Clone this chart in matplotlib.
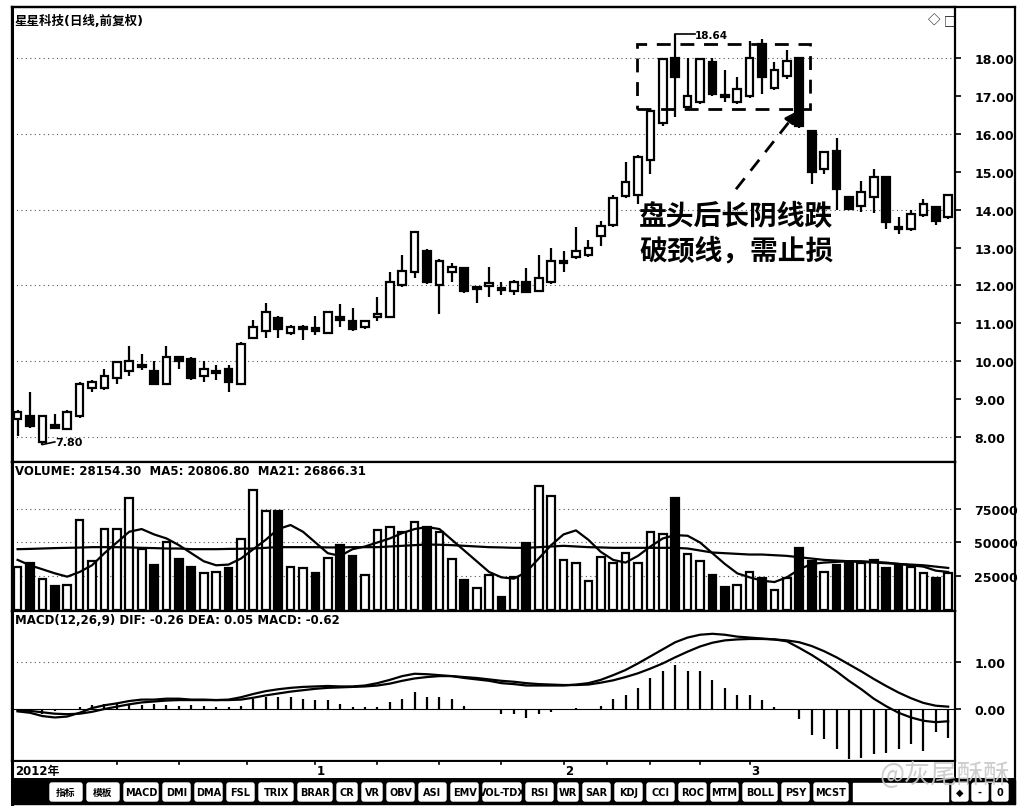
import numpy as np
import matplotlib
matplotlib.use("Agg")
import matplotlib.pyplot as plt
from matplotlib.patches import Rectangle, FancyBboxPatch

plt.rcParams['font.family'] = ['DejaVu Sans', 'Noto Sans CJK SC']

# ---- data ----
opens = [8.47, 8.55, 7.87, 8.30, 8.21, 8.55, 9.30, 9.30, 9.55, 9.75,
         9.85, 9.74, 9.40, 10.10, 10.05, 9.60, 9.70, 9.80, 9.40, 10.60,
         10.80, 11.15, 10.75, 10.85, 10.85, 10.75, 11.15, 11.05, 10.90, 11.17,
         11.17, 12.00, 12.35, 12.90, 12.00, 12.35, 12.45, 11.92, 12.00, 11.92,
         11.85, 12.10, 11.85, 12.10, 12.60, 12.75, 12.80, 13.30, 13.60, 14.36,
         14.40, 15.30, 16.30, 18.00, 16.70, 16.85, 17.90, 17.02, 16.85, 17.00,
         18.37, 17.20, 17.52, 18.00, 16.07, 15.07, 15.55, 14.33, 14.10, 14.33,
         14.86, 13.55, 13.50, 13.85, 14.07, 13.80]
closes = [8.66, 8.30, 8.55, 8.25, 8.66, 9.40, 9.45, 9.60, 9.98, 10.00,
          9.90, 9.40, 10.10, 10.00, 9.55, 9.80, 9.75, 9.45, 10.45, 10.90,
          11.30, 10.85, 10.90, 10.90, 10.82, 11.30, 11.10, 10.85, 11.05, 11.25,
          12.10, 12.38, 13.40, 12.10, 12.65, 12.50, 11.85, 11.93, 12.05, 11.90,
          12.10, 11.83, 12.20, 12.65, 12.63, 12.90, 13.00, 13.57, 14.30, 14.73,
          15.40, 16.60, 17.97, 17.50, 17.00, 17.97, 17.05, 17.00, 17.18, 18.00,
          17.50, 17.70, 17.92, 16.20, 15.00, 15.52, 14.55, 14.02, 14.47, 14.86,
          13.67, 13.50, 13.88, 14.15, 13.70, 14.40]
highs = [8.70, 9.20, 8.57, 8.60, 8.70, 9.45, 9.50, 9.80, 10.00, 10.40,
         10.20, 10.00, 10.40, 10.15, 10.10, 10.00, 9.90, 9.90, 10.50, 11.10,
         11.55, 11.20, 10.95, 10.95, 11.20, 11.32, 11.50, 11.40, 11.10, 11.70,
         12.35, 12.80, 13.45, 12.95, 12.70, 12.60, 12.50, 11.95, 12.50, 12.10,
         12.15, 12.45, 12.80, 13.00, 12.90, 13.55, 13.20, 13.70, 14.40, 15.25,
         15.45, 16.65, 18.00, 18.64, 18.00, 18.00, 18.00, 17.70, 17.50, 18.45,
         18.50, 17.90, 18.22, 18.02, 16.10, 15.55, 15.90, 14.35, 14.75, 15.07,
         14.90, 13.80, 14.00, 14.28, 14.10, 14.42]
lows = [8.03, 8.25, 7.80, 8.20, 8.20, 8.50, 9.20, 9.25, 9.40, 9.60,
        9.78, 9.38, 9.38, 9.80, 9.50, 9.45, 9.50, 9.20, 9.38, 10.58,
        10.60, 10.60, 10.70, 10.55, 10.70, 10.72, 10.90, 10.80, 10.85, 11.05,
        11.15, 11.95, 12.20, 12.05, 11.25, 12.10, 11.80, 11.55, 11.70, 11.75,
        11.75, 11.80, 11.82, 12.05, 12.35, 12.70, 12.75, 13.05, 13.55, 14.30,
        14.15, 14.95, 16.20, 16.45, 16.65, 16.80, 17.00, 16.85, 16.80, 16.95,
        17.05, 17.15, 17.45, 16.15, 14.68, 14.95, 14.00, 14.00, 13.95, 13.90,
        13.50, 13.35, 13.45, 13.80, 13.60, 13.75]

volume = [32000, 34700, 22400, 17300, 18600, 67000, 36000, 60400, 60400, 83500,
          45000, 33500, 50000, 38000, 32000, 27500, 28300, 30900, 52700, 89300,
          73200, 73200, 32000, 30900, 27000, 38600, 48300, 39900, 25700, 59100,
          61200, 57800, 65000, 61700, 57800, 38000, 21900, 16000, 25400, 9100,
          24500, 49400, 92400, 84700, 37300, 34700, 21400, 39100, 34700, 42400,
          34700, 57800, 56500, 83500, 41700, 36500, 25700, 16800, 18600, 28300,
          23200, 14200, 23200, 45800, 36000, 28300, 33500, 34700, 34700, 37300,
          30900, 33500, 32000, 27500, 23200, 27000]
vol_ma5 = [37000, 33000, 30000, 27000, 24500, 28000, 33000, 42000, 50000, 58000,
           60000, 56000, 53000, 48000, 42000, 36000, 33000, 33500, 38000, 45000,
           52000, 60000, 63000, 58000, 50000, 42000, 40000, 45000, 47000, 50000,
           53000, 57000, 60000, 61500, 60000, 52000, 44000, 36000, 28000, 24000,
           23000, 28000, 38000, 48000, 56000, 59000, 52000, 43000, 37000, 35000,
           40000, 47000, 53000, 55500, 55000, 50000, 42000, 34000, 27000, 24000,
           21500, 20500, 24000, 30000, 34000, 35000, 35500, 36000, 36000, 35500,
           35000, 34000, 33000, 32000, 29000, 28000]
vol_ma21 = [45000, 45200, 45500, 45800, 46000, 46200, 46500, 46500, 46500, 46300,
            46000, 45800, 45500, 45500, 45000, 45000, 45000, 45200, 45300, 45500,
            46000, 46500, 46500, 46500, 46500, 46300, 46300, 46500, 46500, 46500,
            47000, 47500, 48000, 48500, 48300, 48000, 47500, 47000, 46500, 46300,
            46000, 46000, 46500, 47000, 47500, 47000, 46500, 46300, 46000, 46000,
            46000, 46000, 46000, 46000, 45500, 44000, 42500, 42000, 41500, 41000,
            41000, 40500, 40000, 39000, 38000, 37000, 36500, 36000, 35500, 35000,
            34500, 34000, 33500, 33000, 32000, 31000]

dif = [-0.05, -0.08, -0.15, -0.18, -0.16, -0.08, 0.02, 0.08, 0.12, 0.17,
       0.20, 0.20, 0.22, 0.22, 0.20, 0.20, 0.19, 0.20, 0.25, 0.32,
       0.38, 0.42, 0.45, 0.47, 0.48, 0.49, 0.48, 0.48, 0.50, 0.55,
       0.62, 0.70, 0.75, 0.74, 0.72, 0.70, 0.66, 0.63, 0.60, 0.55,
       0.53, 0.50, 0.50, 0.50, 0.50, 0.52, 0.55, 0.62, 0.72, 0.83,
       0.97, 1.12, 1.27, 1.42, 1.52, 1.58, 1.60, 1.58, 1.54, 1.52,
       1.50, 1.48, 1.44, 1.30, 1.15, 0.98, 0.80, 0.60, 0.42, 0.22,
       0.06, -0.08, -0.18, -0.25, -0.28, -0.26]
dea = [-0.03, -0.04, -0.07, -0.10, -0.11, -0.10, -0.06, 0.00, 0.05, 0.10,
       0.14, 0.16, 0.18, 0.19, 0.19, 0.19, 0.19, 0.19, 0.20, 0.24,
       0.29, 0.33, 0.37, 0.40, 0.43, 0.45, 0.46, 0.47, 0.48, 0.50,
       0.54, 0.60, 0.65, 0.68, 0.70, 0.70, 0.68, 0.66, 0.63, 0.60,
       0.58, 0.55, 0.53, 0.52, 0.51, 0.51, 0.52, 0.56, 0.61, 0.68,
       0.76, 0.86, 0.97, 1.10, 1.22, 1.33, 1.41, 1.46, 1.48, 1.49,
       1.49, 1.48, 1.46, 1.42, 1.34, 1.23, 1.10, 0.95, 0.80, 0.64,
       0.49, 0.35, 0.23, 0.13, 0.07, 0.05]
macd_hist = [-0.05, -0.08, -0.10, -0.05, 0.00, 0.05, 0.08, 0.10, 0.12, 0.10,
             0.08, 0.10, 0.08, 0.06, 0.08, 0.07, 0.04, 0.05, 0.06, 0.22,
             0.26, 0.26, 0.26, 0.22, 0.19, 0.19, 0.11, 0.05, 0.04, 0.05,
             0.15, 0.22, 0.37, 0.26, 0.26, 0.22, 0.07, 0.00, -0.02, -0.11,
             -0.11, -0.19, -0.11, -0.07, 0.00, 0.02, 0.00, 0.07, 0.22, 0.30,
             0.44, 0.67, 0.81, 0.93, 0.81, 0.81, 0.61, 0.44, 0.30, 0.30,
             0.19, 0.04, 0.00, -0.22, -0.56, -0.63, -0.85, -1.07, -1.04, -0.96,
             -0.93, -0.85, -0.74, -0.89, -0.48, -0.62]

price_ticks = [8, 9, 10, 11, 12, 13, 14, 15, 16, 17, 18]
vol_ticks = [25000, 50000, 75000]
macd_ticks = [0.0, 1.0]
month_labels = ["2012年", "1", "2", "3"]
month_pos = [-0.3, 24, 44, 59]
week_ticks = [8, 13, 18.5, 24, 29, 34, 39, 44, 47.5, 51, 55, 59]
tab_labels = ["指标", "模板", "MACD", "DMI", "DMA", "FSL", "TRIX", "BRAR", "CR", "VR",
              "OBV", "ASI", "EMV", "VOL-TDX", "RSI", "WR", "SAR", "KDJ", "CCI",
              "ROC", "MTM", "BOLL", "PSY", "MCST"]

# ---- layout helpers (pixels) ----
W, H = 1028, 812
fig = plt.figure(figsize=(W / 100, H / 100), dpi=100)
fig.patch.set_facecolor("white")


def box(x0, y0, x1, y1):
    return [x0 / W, 1 - y1 / H, (x1 - x0) / W, (y1 - y0) / H]


n = len(closes)
idx = np.arange(n)
up = np.array(closes) >= np.array(opens)
XLIM = (-0.45, n - 0.45)
grid_kw = dict(color="#555555", lw=0.8, ls=(0, (1, 3)), zorder=0)


def style(ax, ticks, labels, ylim):
    ax.set_xlim(*XLIM)
    ax.set_ylim(*ylim)
    ax.set_xticks([])
    ax.yaxis.tick_right()
    ax.set_yticks(ticks)
    ax.set_yticklabels(labels, fontweight="bold", fontsize=9)
    ax.tick_params(axis="y", direction="out", length=4, width=1.2, pad=10)
    for s in ax.spines.values():
        s.set_linewidth(1.6)


# ---- price panel ----
ax_p = fig.add_axes(box(12, 8, 955, 463))
style(ax_p, price_ticks, [f"{t:.2f}" for t in price_ticks], (7.34, 19.35))
for g in [8, 10, 12, 14, 16, 18]:
    ax_p.axhline(g, **grid_kw)
ax_p.vlines(idx, lows, highs, color="black", lw=1.6, zorder=2)
real_h = np.abs(np.array(closes) - np.array(opens))
body_h = np.maximum(real_h, 0.06)
body_lo = np.minimum(opens, closes) - (body_h - real_h) / 2
ax_p.bar(idx, body_h, bottom=body_lo, width=0.62,
         color=np.where(up, "white", "black"), edgecolor="black", lw=1.6, zorder=3)

ax_p.text(0.003, 0.985, "星星科技(日线,前复权)", transform=ax_p.transAxes,
          ha="left", va="top", fontsize=9, fontweight="bold")
ax_p.text(0.978, 0.985, "◇", transform=ax_p.transAxes, ha="center", va="top",
          fontsize=9, family=["Noto Sans CJK SC"])
ax_p.text(0.995, 0.985, "□", transform=ax_p.transAxes, ha="center", va="top",
          fontsize=9, family=["Noto Sans CJK SC"])

# high / low marks
hi_i = int(np.argmax(highs))
lo_i = int(np.argmin(lows))
ax_p.plot([hi_i, hi_i + 1.6], [highs[hi_i], highs[hi_i]], color="black", lw=1.2, zorder=4)
ax_p.text(hi_i + 1.6, highs[hi_i] - 0.03, f"{highs[hi_i]:.2f}", ha="left", va="center",
          fontsize=7.5, fontweight="bold", zorder=4)
ax_p.plot([lo_i, lo_i + 1.0], [lows[lo_i], lows[lo_i] + 0.07], color="black", lw=1.2, zorder=4)
ax_p.text(lo_i + 1.05, lows[lo_i] + 0.08, f"{lows[lo_i]:.2f}", ha="left", va="center",
          fontsize=8, fontweight="bold", zorder=4)

# head area box, arrow and note
ax_p.add_patch(Rectangle((49.96, 16.65), 13.94, 1.72, fill=False, ec="black",
                         lw=2, ls=(0, (5, 3.5)), zorder=5))
ax_p.plot([57.9, 62.5], [14.54, 16.45], color="black", lw=2, ls=(0, (5, 3.5)), zorder=5)
ax_p.annotate("", xy=(62.9, 16.65), xytext=(62.3, 16.38),
              arrowprops=dict(arrowstyle="-|>", color="black", lw=2, mutation_scale=16),
              zorder=5)
note_kw = dict(ha="left", va="center", fontsize=20, fontweight="bold",
               family=["Noto Sans CJK SC"], zorder=6)
ax_p.text(50.1, 13.82, "盘头后长阴线跌", **note_kw)
ax_p.text(50.1, 12.93, "破颈线，需止损", **note_kw)

# ---- volume panel ----
ax_v = fig.add_axes(box(12, 463, 955, 612))
style(ax_v, vol_ticks, [str(t) for t in vol_ticks], (-1100, 110000))
for g in vol_ticks:
    ax_v.axhline(g, **grid_kw)
ax_v.bar(idx, volume, width=0.62, color=np.where(up, "white", "black"),
         edgecolor="black", lw=1.6, zorder=2)
ax_v.plot(idx, vol_ma5, color="black", lw=1.6, zorder=3)
ax_v.plot(idx, vol_ma21, color="black", lw=1.6, zorder=3)
ax_v.text(0.003, 0.985, "VOLUME: 28154.30  MA5: 20806.80  MA21: 26866.31",
          transform=ax_v.transAxes, ha="left", va="top", fontsize=8.5, fontweight="bold")

# ---- MACD panel ----
ax_m = fig.add_axes(box(12, 612, 955, 762))
style(ax_m, macd_ticks, [f"{t:.2f}" for t in macd_ticks], (-1.106, 2.085))
ax_m.axhline(1.0, **grid_kw)
ax_m.axhline(0.0, color="black", lw=0.8, zorder=1)
ax_m.vlines(idx, 0, macd_hist, color="black", lw=1.6, zorder=2)
ax_m.plot(idx, dif, color="black", lw=1.6, zorder=3)
ax_m.plot(idx, dea, color="black", lw=1.6, zorder=3)
ax_m.text(0.003, 0.985, "MACD(12,26,9) DIF: -0.26 DEA: 0.05 MACD: -0.62",
          transform=ax_m.transAxes, ha="left", va="top", fontsize=8.5, fontweight="bold")

# ---- date strip ----
ax_d = fig.add_axes(box(12, 762, 955, 780))
ax_d.set_xlim(*XLIM)
ax_d.set_ylim(0, 1)
ax_d.set_xticks([])
ax_d.set_yticks([])
for s in ax_d.spines.values():
    s.set_linewidth(1.4)
for t in week_ticks:
    ax_d.plot([t, t], [0.82, 1.0], color="black", lw=1.2)
for lbl, p in zip(month_labels, month_pos):
    ax_d.text(p + 0.1, 0.45, lbl, ha="left", va="center", fontsize=8.5,
              fontweight="bold")

# ---- frame, tab bar and watermark (pixel overlay) ----
ov = fig.add_axes([0, 0, 1, 1])
ov.set_xlim(0, W)
ov.set_ylim(H, 0)
ov.axis("off")
ov.patch.set_alpha(0)
ov.plot([12, 1015], [8, 8], color="black", lw=1.6)
ov.plot([1015, 1015], [8, 805], color="black", lw=1.6)
ov.plot([12, 12], [8, 805], color="black", lw=2.2)
ov.plot([955, 1015], [780, 780], color="black", lw=1.4)

ov.add_patch(Rectangle((12, 781), 1003, 24, color="black"))
x = 50
for lbl in tab_labels:
    units = sum(2 if ord(c) > 255 else 1 for c in lbl)
    w = 32 if not lbl.isascii() else max(20, min(38, 6 + 7 * units))
    ov.add_patch(FancyBboxPatch((x, 784), w, 18, boxstyle="round,pad=0,rounding_size=2",
                                fc="white", ec="white"))
    ov.text(x + w / 2, 793, lbl, ha="center", va="center", fontsize=7,
            fontweight="bold", color="black")
    x += w + 5
ov.add_patch(Rectangle((x, 784), 948 - x, 18, color="white"))
for k, sym in enumerate(["◆", "-", "0"]):
    ov.add_patch(FancyBboxPatch((952 + k * 20, 784), 16, 18,
                                boxstyle="round,pad=0,rounding_size=2", fc="white", ec="white"))
    ov.text(960 + k * 20, 793, sym, ha="center", va="center", fontsize=7,
            fontweight="bold", family=["DejaVu Sans"])

ov.text(1010, 775, "@灰尾酥酥", ha="right", va="center", fontsize=19,
        color="#c8c8c8", alpha=0.9, family=["Noto Sans CJK SC", "DejaVu Sans"])

fig.savefig("out.png", dpi=100)
